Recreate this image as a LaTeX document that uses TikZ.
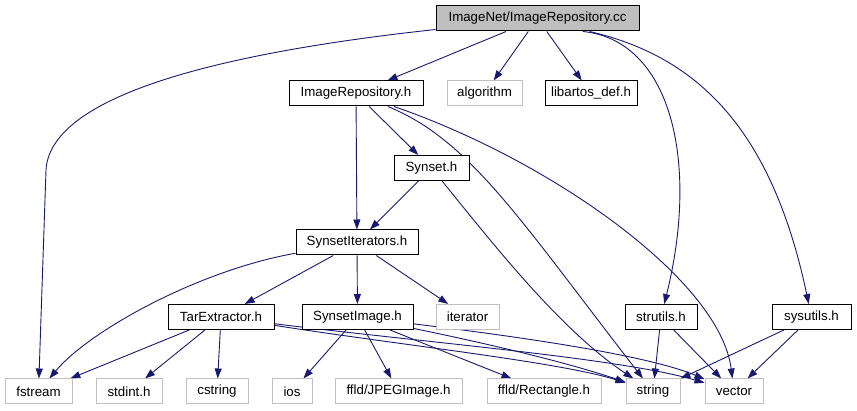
\documentclass[tikz,border=0pt]{standalone}
\usepackage{fontspec}
\setmainfont{Liberation Sans}
\usetikzlibrary{arrows.meta, backgrounds}

\definecolor{edgeblue}{RGB}{25,25,112}
\definecolor{sysgray}{RGB}{191,191,191}

\begin{document}
\begin{tikzpicture}[
    x=1pt, y=-1pt,
    header/.style={rectangle, draw=black, line width=1pt, align=center, minimum height=25pt, inner xsep=1pt, inner ysep=0pt, font=\fontsize{13.3}{16}\selectfont, fill=white},
    sysheader/.style={header, draw=sysgray},
    rootfile/.style={header, fill=sysgray},
    dep/.style={-{Triangle[length=10pt, width=7pt]}, line width=0.9pt, draw=edgeblue}
]
\useasboundingbox (0,0) rectangle (857,411);

% Files
\node[rootfile, minimum width=203pt]  (root)    at (537.5, 18.5)  {ImageNet/ImageRepository.cc};

\node[header, minimum width=134pt]    (imgrep)  at (356, 93.5)    {ImageRepository.h};
\node[sysheader, minimum width=75pt]  (algo)    at (484.5, 93.5)  {algorithm};
\node[header, minimum width=92pt]     (libdef)  at (591, 93.5)    {libartos\_def.h};

\node[header, minimum width=75pt]     (synset)  at (431.5, 168)   {Synset.h};
\node[header, minimum width=122pt]    (synit)   at (357, 242.5)   {SynsetIterators.h};

\node[header, minimum width=106pt]    (tarex)   at (221, 317)     {TarExtractor.h};
\node[header, minimum width=111pt]    (synimg)  at (357.5, 317)   {SynsetImage.h};
\node[sysheader, minimum width=63pt]  (iter)    at (467.5, 317)   {iterator};
\node[header, minimum width=72pt]     (strut)   at (661, 317)     {strutils.h};
\node[header, minimum width=79pt]     (sysut)   at (811.5, 317)   {sysutils.h};

\node[sysheader, minimum width=67pt]  (fstream) at (38.5, 391.5)  {fstream};
\node[sysheader, minimum width=66pt]  (stdint)  at (129, 391.5)   {stdint.h};
\node[sysheader, minimum width=62pt]  (cstring) at (217, 391.5)   {cstring};
\node[sysheader, minimum width=40pt]  (ios)     at (292, 391.5)   {ios};
\node[sysheader, minimum width=127pt] (jpeg)    at (398.5, 391.5) {ffld/JPEGImage.h};
\node[sysheader, minimum width=114pt] (rect)    at (544, 391.5)   {ffld/Rectangle.h};
\node[sysheader, minimum width=54pt]  (string)  at (653, 391.5)   {string};
\node[sysheader, minimum width=58pt]  (vector)  at (734, 391.5)   {vector};

% Edges
\begin{scope}[on background layer]
\draw[dep] (root) .. controls (200,55) and (50,100) .. (46,170) -- (fstream);
\draw[dep] (root) -- (imgrep);
\draw[dep] (root) -- (algo);
\draw[dep] (root) -- (libdef);
\draw[dep] (root.-16) .. controls (670,40) and (700,160) .. (strut);
\draw[dep] (root.-14) .. controls (690,55) and (770,120) .. (sysut);

\draw[dep] (imgrep) -- (synit);
\draw[dep] (imgrep) -- (synset);
\draw[dep] (imgrep) .. controls (470,140) and (520,220) .. (string);
\draw[dep] (imgrep) .. controls (550,160) and (720,280) .. (vector);

\draw[dep] (synset) -- (synit);
\draw[dep] (synset) .. controls (490,240) and (560,330) .. (string);

\draw[dep] (synit) .. controls (200,270) and (90,330) .. (fstream);
\draw[dep] (synit) -- (tarex);
\draw[dep] (synit) -- (synimg);
\draw[dep] (synit) -- (iter);

\draw[dep] (tarex) -- (fstream);
\draw[dep] (tarex) -- (stdint);
\draw[dep] (tarex) -- (cstring);
\draw[dep] (tarex) .. controls (400,345) and (560,362) .. (string);
\draw[dep] (tarex) .. controls (420,342) and (620,358) .. (vector);

\draw[dep] (synimg) -- (ios);
\draw[dep] (synimg) -- (jpeg);
\draw[dep] (synimg) -- (rect);
\draw[dep] (synimg) .. controls (470,340) and (560,360) .. (string);
\draw[dep] (synimg) .. controls (480,332) and (640,352) .. (vector);

\draw[dep] (strut) -- (string);
\draw[dep] (strut) -- (vector);
\draw[dep] (sysut) -- (string);
\draw[dep] (sysut) -- (vector);
\end{scope}

\end{tikzpicture}
\end{document}
